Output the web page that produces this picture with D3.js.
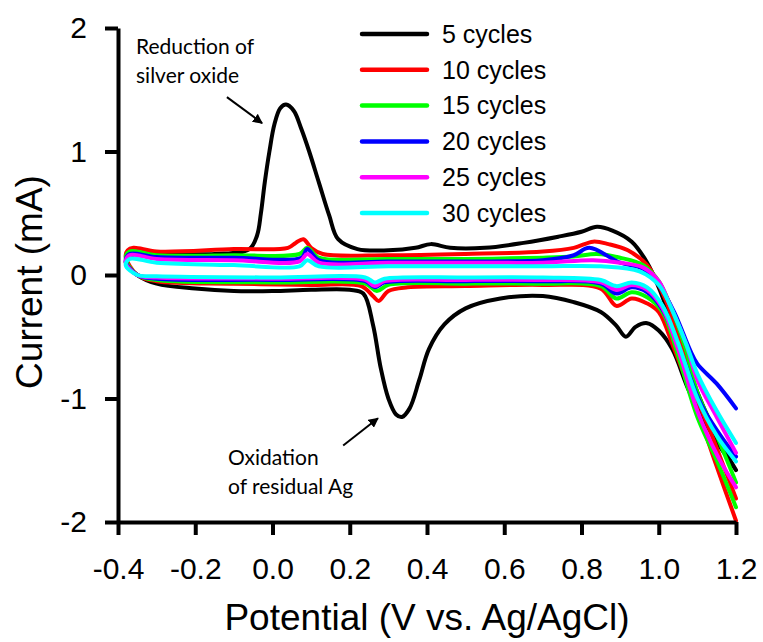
<!DOCTYPE html>
<html>
<head>
<meta charset="utf-8">
<script src="https://cdn.jsdelivr.net/npm/d3@7"></script>
<style>
  body { margin: 0; background: #fff; }
  text { font-family: Arial, "Liberation Sans", sans-serif; }
  .note { font-family: Lato, "Open Sans", sans-serif; }
</style>
</head>
<body>
<svg id="chart"></svg>
<script>
'use strict';

// potential (V) / current (mA), each loop: upper branch from 1.2 V leftwards, then lower branch back to 1.2 V
const seriesNames = ['5 cycles', '10 cycles', '15 cycles', '20 cycles', '25 cycles', '30 cycles'];
const seriesColors = ['#000000', '#ff0000', '#00ff00', '#0000ff', '#ff00ff', '#00ffff'];

const cycles5 = [
  [1.2, -1.58], [1.15, -1.3], [1.1, -0.95], [1.06, -0.6], [1.03, -0.35], [1.0, -0.1], [0.97, 0.1],
  [0.93, 0.27], [0.88, 0.36], [0.84, 0.39], [0.8, 0.35], [0.74, 0.31], [0.65, 0.26], [0.55, 0.22],
  [0.46, 0.22], [0.41, 0.25], [0.37, 0.22], [0.3, 0.2], [0.22, 0.21], [0.17, 0.29], [0.147, 0.48],
  [0.12, 0.75], [0.095, 1.0], [0.075, 1.18], [0.055, 1.33], [0.035, 1.38], [0.02, 1.35], [0.005, 1.22],
  [-0.008, 1.0], [-0.02, 0.75], [-0.03, 0.5], [-0.04, 0.32], [-0.06, 0.21], [-0.15, 0.17], [-0.3, 0.17],
  [-0.37, 0.15],
  [-0.38, 0.1], [-0.35, 0.0], [-0.3, -0.07], [-0.2, -0.11], [-0.1, -0.13], [0.0, -0.13], [0.1, -0.12],
  [0.2, -0.12], [0.235, -0.15], [0.26, -0.4], [0.28, -0.75], [0.3, -1.0], [0.32, -1.13], [0.335, -1.15],
  [0.355, -1.08], [0.38, -0.85], [0.405, -0.6], [0.445, -0.4], [0.5, -0.27], [0.59, -0.19], [0.7, -0.17],
  [0.78, -0.22], [0.85, -0.3], [0.89, -0.41], [0.915, -0.5], [0.94, -0.42], [0.97, -0.39], [1.0, -0.45],
  [1.035, -0.6], [1.08, -0.95], [1.14, -1.3], [1.2, -1.58]
];

const cycles10 = [
  [1.2, -1.81], [1.15, -1.4], [1.1, -1.0], [1.06, -0.6], [1.03, -0.3], [1.0, -0.08], [0.97, 0.08],
  [0.92, 0.2], [0.87, 0.25], [0.83, 0.27], [0.78, 0.22], [0.7, 0.19], [0.5, 0.17], [0.3, 0.16],
  [0.13, 0.17], [0.1, 0.22], [0.08, 0.29], [0.06, 0.26], [0.04, 0.22], [-0.1, 0.21], [-0.3, 0.19],
  [-0.36, 0.22], [-0.375, 0.2],
  [-0.38, 0.15], [-0.35, 0.0], [-0.3, -0.05], [-0.1, -0.07], [0.1, -0.08], [0.23, -0.09], [0.26, -0.17],
  [0.275, -0.21], [0.3, -0.13], [0.35, -0.1], [0.5, -0.09], [0.7, -0.08], [0.85, -0.11], [0.89, -0.25],
  [0.93, -0.19], [0.97, -0.23], [1.0, -0.3], [1.04, -0.6], [1.1, -1.1], [1.15, -1.55], [1.2, -1.99]
];

const cycles15 = [
  [1.2, -1.68], [1.15, -1.3], [1.1, -0.95], [1.07, -0.6], [1.03, -0.25], [1.0, -0.05], [0.96, 0.08],
  [0.9, 0.14], [0.84, 0.17], [0.78, 0.15], [0.7, 0.14], [0.5, 0.13], [0.3, 0.13], [0.12, 0.14],
  [0.09, 0.22], [0.07, 0.17], [-0.1, 0.16], [-0.3, 0.16], [-0.37, 0.19],
  [-0.38, 0.13], [-0.35, 0.0], [-0.3, -0.04], [0.0, -0.06], [0.24, -0.07], [0.27, -0.13], [0.3, -0.08],
  [0.5, -0.07], [0.7, -0.07], [0.85, -0.09], [0.89, -0.19], [0.93, -0.14], [0.97, -0.18], [1.01, -0.3],
  [1.05, -0.65], [1.1, -1.15], [1.15, -1.5], [1.2, -1.88]
];

const cycles20 = [
  [1.2, -1.08], [1.15, -0.88], [1.1, -0.72], [1.08, -0.6], [1.04, -0.3], [1.0, -0.08], [0.96, 0.05],
  [0.9, 0.1], [0.82, 0.22], [0.78, 0.16], [0.7, 0.12], [0.5, 0.11], [0.3, 0.11], [0.12, 0.12],
  [0.09, 0.21], [0.075, 0.14], [-0.1, 0.14], [-0.3, 0.145], [-0.37, 0.17],
  [-0.38, 0.11], [-0.35, 0.0], [-0.3, -0.03], [0.0, -0.04], [0.24, -0.05], [0.265, -0.1], [0.29, -0.06],
  [0.5, -0.05], [0.7, -0.05], [0.85, -0.07], [0.89, -0.15], [0.93, -0.1], [0.97, -0.14], [1.01, -0.28],
  [1.06, -0.65], [1.11, -1.05], [1.16, -1.3], [1.2, -1.47]
];

const cycles25 = [
  [1.2, -1.44], [1.15, -1.15], [1.1, -0.85], [1.07, -0.55], [1.03, -0.25], [1.0, -0.05], [0.96, 0.06],
  [0.9, 0.1], [0.83, 0.12], [0.7, 0.1], [0.5, 0.1], [0.3, 0.1], [0.12, 0.1], [0.09, 0.17],
  [0.07, 0.11], [-0.1, 0.12], [-0.3, 0.13], [-0.37, 0.16],
  [-0.38, 0.1], [-0.35, 0.0], [-0.3, -0.02], [0.0, -0.03], [0.24, -0.04], [0.265, -0.09], [0.29, -0.05],
  [0.5, -0.04], [0.7, -0.04], [0.85, -0.06], [0.89, -0.12], [0.93, -0.08], [0.97, -0.12], [1.01, -0.27],
  [1.05, -0.6], [1.1, -1.1], [1.15, -1.45], [1.2, -1.72]
];

const cycles30 = [
  [1.2, -1.36], [1.15, -1.1], [1.1, -0.8], [1.07, -0.55], [1.03, -0.25], [1.0, -0.08], [0.95, 0.03],
  [0.85, 0.07], [0.7, 0.07], [0.5, 0.07], [0.3, 0.07], [0.12, 0.07], [0.09, 0.12], [0.07, 0.07],
  [-0.1, 0.08], [-0.3, 0.1], [-0.37, 0.13],
  [-0.38, 0.08], [-0.35, 0.0], [-0.3, -0.01], [0.0, -0.02], [0.24, -0.02], [0.265, -0.06], [0.29, -0.03],
  [0.5, -0.02], [0.7, -0.02], [0.85, -0.04], [0.89, -0.09], [0.93, -0.06], [0.97, -0.1], [1.01, -0.25],
  [1.05, -0.55], [1.1, -1.0], [1.15, -1.3], [1.2, -1.51]
];

const xTicks = [-0.4, -0.2, 0.0, 0.2, 0.4, 0.6, 0.8, 1.0, 1.2];
const yTicks = [-2, -1, 0, 1, 2];

const allSeries = [cycles5, cycles10, cycles15, cycles20, cycles25, cycles30];

const width = 763;
const height = 642;

const svg = d3.select('#chart')
    .attr('width', width)
    .attr('height', height);

const x = d3.scaleLinear().domain([-0.4, 1.2]).range([118, 736]);
const y = d3.scaleLinear().domain([-2, 2]).range([522, 28]);

const line = d3.line()
    .x((d) => x(d[0]))
    .y((d) => y(d[1]))
    .curve(d3.curveCatmullRom.alpha(0.5));

svg.append('g')
    .selectAll('path')
    .data(allSeries)
    .enter()
    .append('path')
    .attr('fill', 'none')
    .attr('stroke', (d, i) => seriesColors[i])
    .attr('stroke-width', 4)
    .attr('stroke-linejoin', 'round')
    .attr('stroke-linecap', 'round')
    .attr('d', line);

// axes
const xAxis = svg.append('g')
    .attr('transform', `translate(0, ${y(-2)})`)
    .call(d3.axisBottom(x).tickValues(xTicks).tickSize(13).tickSizeOuter(0)
        .tickPadding(23).tickFormat((d) => d.toFixed(1)));

const yAxis = svg.append('g')
    .attr('transform', `translate(${x(-0.4)}, 0)`)
    .call(d3.axisLeft(y).tickValues(yTicks).tickSize(13).tickSizeOuter(0)
        .tickPadding(18).tickFormat((d) => String(d)));

[xAxis, yAxis].forEach((g) => {
  g.select('.domain').attr('stroke', '#000').attr('stroke-width', 4);
  g.selectAll('.tick line').attr('stroke', '#000').attr('stroke-width', 4);
  g.selectAll('.tick text')
      .attr('fill', '#000')
      .style('font-size', '30px')
      .style('font-family', 'Arial, "Liberation Sans", sans-serif');
});

svg.append('text')
    .attr('x', 427)
    .attr('y', 630)
    .attr('text-anchor', 'middle')
    .style('font-size', '37px')
    .text('Potential (V vs. Ag/AgCl)');

svg.append('text')
    .attr('transform', 'translate(42, 282) rotate(-90)')
    .attr('text-anchor', 'middle')
    .style('font-size', '37px')
    .text('Current (mA)');

// legend
const legend = svg.append('g')
    .selectAll('g')
    .data(seriesNames)
    .enter()
    .append('g')
    .attr('transform', (d, i) => `translate(362, ${34 + i * 35.8})`);

legend.append('line')
    .attr('x1', 0)
    .attr('x2', 65)
    .attr('stroke', (d, i) => seriesColors[i])
    .attr('stroke-width', 4.5)
    .attr('stroke-linecap', 'round');

legend.append('text')
    .attr('x', 80)
    .attr('dy', '0.35em')
    .style('font-size', '25px')
    .text((d) => d);

// annotations
svg.append('defs').append('marker')
    .attr('id', 'head')
    .attr('viewBox', '0 0 10 10')
    .attr('refX', 9)
    .attr('refY', 5)
    .attr('markerWidth', 5)
    .attr('markerHeight', 5)
    .attr('orient', 'auto')
    .append('path')
    .attr('d', 'M0,0L10,5L0,10z')
    .attr('fill', '#000');

const notes = [
  {lines: ['Reduction of', 'silver oxide'], tx: 136, ty: 54, from: [-0.118, 1.44], to: [-0.027, 1.23]},
  {lines: ['Oxidation', 'of residual Ag'], tx: 228, ty: 465, from: [0.183, -1.38], to: [0.273, -1.16]}
];

notes.forEach((n) => {
  const t = svg.append('text')
      .attr('class', 'note')
      .attr('x', n.tx)
      .attr('y', n.ty)
      .style('font-size', '21px');
  n.lines.forEach((s, i) => {
    t.append('tspan').attr('x', n.tx).attr('dy', i ? 29 : 0).text(s);
  });
  svg.append('line')
      .attr('x1', x(n.from[0]))
      .attr('y1', y(n.from[1]))
      .attr('x2', x(n.to[0]))
      .attr('y2', y(n.to[1]))
      .attr('stroke', '#000')
      .attr('stroke-width', 2)
      .attr('marker-end', 'url(#head)');
});
</script>
</body>
</html>
